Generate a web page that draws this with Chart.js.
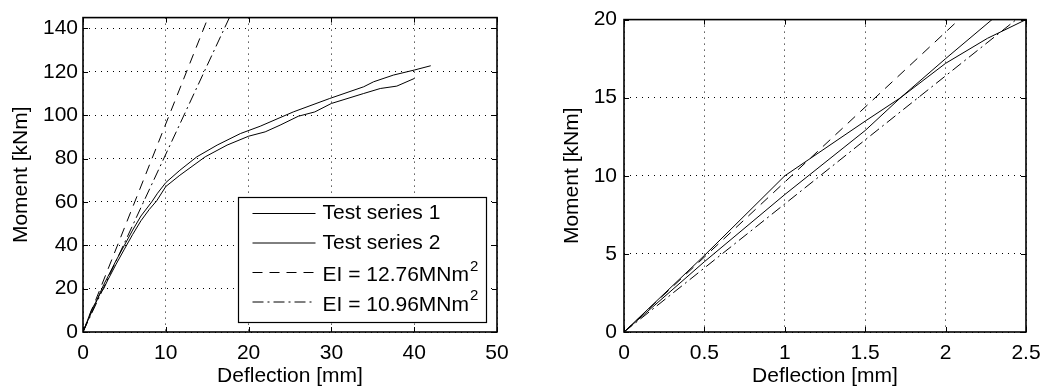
<!DOCTYPE html>
<html><head><meta charset="utf-8">
<script src="https://cdn.jsdelivr.net/npm/chart.js@4"></script>
<style>
html,body{margin:0;padding:0;background:#fff;overflow:hidden}
#wrap{position:relative;width:1056px;height:389px;background:#fff}
canvas{position:absolute;top:0}
</style></head><body>
<div id="wrap">
<canvas id="c1" width="520" height="389" style="left:0"></canvas>
<canvas id="c2" width="536" height="389" style="left:520px"></canvas>
</div>
<script>
// ---- data ----
const seriesNames = ['Test series 1', 'Test series 2', 'EI = 12.76MNm', 'EI = 10.96MNm'];
const seriesSuperscripts = ['', '', '2', '2'];

const s1Deflection = [0, 0.5, 1, 1.5, 1.72, 2, 2.3, 2.5, 3, 4, 5, 6, 7, 8.3, 9, 10, 11.7, 13.75, 16.2, 19, 21.4, 25.4, 29.8, 33.9, 35.1, 37.5, 40, 42];
const s1Moment     = [0, 4.5, 8.8, 12.9, 15, 17.5, 20.1, 21.8, 25.5, 33, 40, 47, 53.5, 60, 64, 68.9, 74.6, 80.8, 86.2, 91.5, 94.9, 101.5, 107.7, 113.1, 115.4, 118.5, 120.8, 122.8];

const s2Deflection = [0, 0.5, 1, 1.15, 1.5, 1.72, 2, 2.26, 2.5, 3, 4, 5, 6, 7, 8, 8.9, 10, 11.7, 14.76, 17.4, 20, 22, 23.8, 26, 28, 30, 33.9, 35.9, 37.9, 40];
const s2Moment     = [0, 4.9, 10, 11.05, 13.5, 15, 17.2, 18.8, 20, 24, 31.3, 38.2, 45, 51.3, 56.5, 60.5, 67.1, 72.3, 80.8, 86.2, 90.3, 92.3, 95.4, 99.5, 101.5, 105.4, 110, 112.3, 113.4, 116.9];

const ei1Deflection = [0, 15.5];
const ei1Moment     = [0, 148.8];
const ei2Deflection = [0, 18];
const ei2Moment     = [0, 147.6];

const leftXTicks  = [0, 10, 20, 30, 40, 50];
const leftYTicks  = [0, 20, 40, 60, 80, 100, 120, 140];
const rightXTicks = [0, 0.5, 1, 1.5, 2, 2.5];
const rightYTicks = [0, 5, 10, 15, 20];

const xTitle = 'Deflection [mm]';
const yTitle = 'Moment [kNm]';

// ---- helpers ----
const FONT = 'Liberation Sans, Arial, Helvetica, sans-serif';
const FS = 21;
function pts(xs, ys) { return xs.map((x, i) => ({ x: x, y: ys[i] })); }

function makeDatasets() {
  const base = { borderColor: '#000', borderWidth: 1, pointRadius: 0, tension: 0, fill: false };
  return [
    Object.assign({}, base, { label: seriesNames[0], data: pts(s1Deflection, s1Moment) }),
    Object.assign({}, base, { label: seriesNames[1], data: pts(s2Deflection, s2Moment) }),
    Object.assign({}, base, { label: seriesNames[2], data: pts(ei1Deflection, ei1Moment), borderDash: [10, 7] }),
    Object.assign({}, base, { label: seriesNames[3], data: pts(ei2Deflection, ei2Moment), borderDash: [11, 4, 2, 4] })
  ];
}

const framePlugin = {
  id: 'frame',
  afterDatasetsDraw(chart, args, opts) {
    const { ctx, chartArea: a } = chart;
    const x = chart.scales.x, y = chart.scales.y;
    ctx.save();
    ctx.strokeStyle = '#000';
    ctx.lineWidth = 1;
    ctx.setLineDash([]);
    const tl = 5;
    ctx.beginPath();
    x.ticks.forEach(t => {
      const p = Math.round(x.getPixelForValue(t.value)) + 0.5;
      ctx.moveTo(p, a.bottom); ctx.lineTo(p, a.bottom - tl);
      ctx.moveTo(p, a.top); ctx.lineTo(p, a.top + tl);
    });
    y.ticks.forEach(t => {
      const p = Math.round(y.getPixelForValue(t.value)) + 0.5;
      ctx.moveTo(a.left, p); ctx.lineTo(a.left + tl, p);
      ctx.moveTo(a.right, p); ctx.lineTo(a.right - tl, p);
    });
    ctx.stroke();
    ctx.lineWidth = 1.6;
    ctx.strokeRect(a.left, a.top, a.right - a.left, a.bottom - a.top);

    if (opts && opts.legend) {
      const bw = 248, bh = 125;
      const bx = Math.round(a.right - 11 - bw) + 0.5;
      const by = Math.round(a.bottom - 10 - bh) + 0.5;
      ctx.fillStyle = '#fff';
      ctx.fillRect(bx, by, bw, bh);
      ctx.lineWidth = 1.2;
      ctx.strokeRect(bx, by, bw, bh);
      chart.data.datasets.forEach((ds, i) => {
        const ry = by + 16 + i * 29.5;
        ctx.lineWidth = 1;
        ctx.setLineDash(ds.borderDash || []);
        ctx.beginPath();
        ctx.moveTo(bx + 14, ry); ctx.lineTo(bx + 77, ry);
        ctx.stroke();
        ctx.setLineDash([]);
        ctx.fillStyle = '#000';
        ctx.font = FS + 'px ' + FONT;
        ctx.textBaseline = 'middle';
        ctx.textAlign = 'left';
        const ty = ry + (seriesSuperscripts[i] ? 3 : 0);
        ctx.fillText(ds.label, bx + 84, ty);
        if (seriesSuperscripts[i]) {
          const w = ctx.measureText(ds.label).width;
          ctx.font = '15px ' + FONT;
          ctx.fillText(seriesSuperscripts[i], bx + 84 + w + 1, ty - 9);
        }
      });
    }
    ctx.restore();
  }
};

function makeChart(id, cfg) {
  const ctx = document.getElementById(id).getContext('2d');
  return new Chart(ctx, {
    type: 'line',
    data: { datasets: makeDatasets() },
    plugins: [framePlugin],
    options: {
      responsive: false,
      animation: false,
      devicePixelRatio: 1,
      layout: { padding: { left: 0, right: cfg.padRight, top: 17, bottom: 0 } },
      plugins: {
        legend: { display: false },
        tooltip: { enabled: false },
        frame: { legend: cfg.legend }
      },
      scales: {
        x: {
          type: 'linear', min: 0, max: cfg.xMax,
          afterBuildTicks: s => { s.ticks = cfg.xTicks.map(v => ({ value: v })); },
          afterFit: s => { s.height = 57; },
          grid: { color: '#000', lineWidth: 1, drawTicks: false },
          border: { display: false, dash: [1, 5] },
          ticks: { color: '#000', font: { family: FONT, size: FS }, padding: 9, maxRotation: 0, autoSkip: false, callback: v => String(v) },
          title: { display: true, text: xTitle, color: '#000', font: { family: FONT, size: FS }, padding: { top: 0, bottom: 0 } }
        },
        y: {
          type: 'linear', min: 0, max: cfg.yMax,
          afterBuildTicks: s => { s.ticks = cfg.yTicks.map(v => ({ value: v })); },
          afterFit: s => { s.width = cfg.yWidth; },
          grid: { color: '#000', lineWidth: 1, drawTicks: false },
          border: { display: false, dash: [1, 5] },
          ticks: { color: '#000', font: { family: FONT, size: FS }, padding: cfg.yTickPad, autoSkip: false, callback: v => String(v) },
          title: { display: true, text: yTitle, color: '#000', font: { family: FONT, size: FS }, padding: { top: cfg.yTitlePad, bottom: 0 } }
        }
      }
    }
  });
}

makeChart('c1', { xMax: 50, yMax: 145, xTicks: leftXTicks, yTicks: leftYTicks, padRight: 23, yWidth: 83, yTickPad: 5, yTitlePad: 9, legend: true });
makeChart('c2', { xMax: 2.5, yMax: 20, xTicks: rightXTicks, yTicks: rightYTicks, padRight: 30, yWidth: 104, yTickPad: 7, yTitlePad: 40, legend: false });
</script>
</body></html>
